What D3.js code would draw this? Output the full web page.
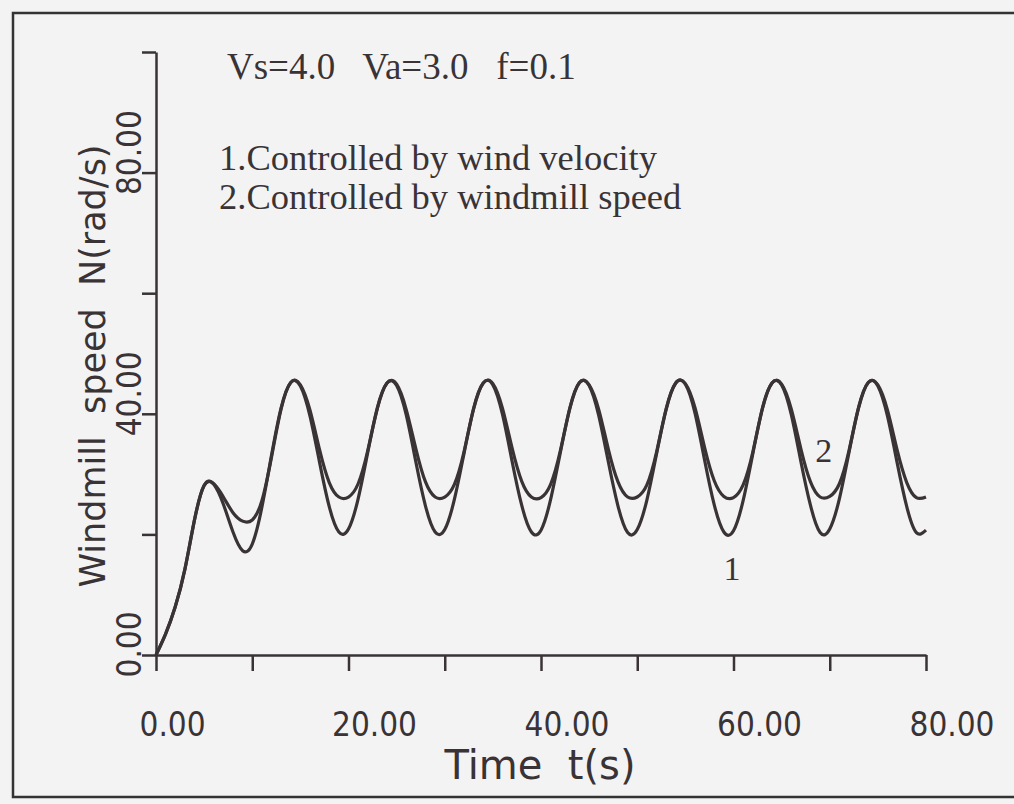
<!DOCTYPE html>
<html><head><meta charset="utf-8">
<script src="https://cdn.jsdelivr.net/npm/d3@7"></script>
<style>
body{margin:0;background:#f4f3f3;}
svg{display:block;}
</style>
</head><body>
<svg id="chart" width="1014" height="804"></svg>
<script>
// ---- data ----
const timeS = [0,1,2,3,4,5,6,7,8,9,10,11,12,13,14,15,16,17,18,19,20,21,22,23,24,25,26,27,28,29,30,31,32,33,34,35,36,37,38,39,40,41,42,43,44,45,46,47,48,49,50,51,52,53,54,55,56,57,58,59,60,61,62,63,64,65,66,67,68,69,70,71,72,73,74,75,76,77,78,79,80];
// curve 1: controlled by wind velocity
const speedWind = [0,3.5,8.0,14.2,22.4,28.1,28.3,25.0,20.4,17.3,18.4,24.5,33.1,41.0,45.2,44.6,39.6,31.9,24.6,20.4,20.9,25.9,33.6,40.9,45.1,44.7,39.8,32.0,24.7,20.4,20.8,25.8,33.4,40.8,45.1,44.8,39.9,32.1,24.8,20.4,20.7,25.8,33.5,40.9,45.2,44.7,39.7,32.0,24.7,20.3,20.8,25.7,33.3,40.7,45.1,44.9,40.1,32.3,24.9,20.4,20.6,25.6,33.3,40.8,45.1,44.8,39.9,32.1,24.8,20.3,20.9,25.9,33.6,41.0,45.2,44.6,39.6,31.9,24.6,20.3,20.7];
// curve 2: controlled by windmill speed
const speedMill = [0,3.5,8.0,14.2,22.4,28.1,28.4,26.2,23.6,22.2,22.4,25.6,32.8,40.8,45.2,44.8,40.6,34.0,28.6,26.2,26.2,28.4,33.9,41.0,45.1,44.9,40.7,34.2,28.7,26.2,26.2,28.3,33.7,40.9,45.1,45.0,40.9,34.3,28.8,26.2,26.1,28.3,33.8,41.0,45.2,44.8,40.7,34.1,28.7,26.2,26.2,28.2,33.6,40.8,45.1,45.0,41.0,34.4,28.9,26.3,26.1,28.2,33.6,40.9,45.1,44.9,40.8,34.2,28.7,26.2,26.3,28.4,33.9,41.1,45.2,44.8,40.6,34.0,28.6,26.1,26.2];

const xTicks = [0,10,20,30,40,50,60,70,80];
const xTickLabels = ["0.00","","20.00","","40.00","","60.00","","80.00"];
const yTicks = [0,20,40,60,80,100];
const yTickLabels = ["0.00","","40.00","","80.00",""];

const titleX = "Time  t(s)";
const titleY = "Windmill  speed  N(rad/s)";
const noteParams = "Vs=4.0   Va=3.0   f=0.1";
const noteLines = ["1.Controlled by wind velocity", "2.Controlled by windmill speed"];
const curveTags = ["1", "2"];

// ---- drawing ----
const ink = "#3a3336";
const svg = d3.select("#chart");
const x = d3.scaleLinear().domain([0, 80]).range([156, 926]);
const y = d3.scaleLinear().domain([0, 100]).range([655, 52]);

// frame
svg.append("path")
  .attr("d", "M1016,13H13V797H1016")
  .attr("fill", "none").attr("stroke", "#333").attr("stroke-width", 2.5);

const sans = "'DejaVu Sans', sans-serif";
const serif = "'Liberation Serif', 'Times New Roman', serif";

// x axis
const gx = svg.append("g").attr("transform", `translate(0,${y(0)})`)
  .call(d3.axisBottom(x).tickValues(xTicks).tickSize(16).tickSizeOuter(0)
    .tickFormat((d, i) => xTickLabels[i]));
gx.select(".domain").attr("stroke", ink).attr("stroke-width", 2.5);
gx.selectAll(".tick line").attr("stroke", ink).attr("stroke-width", 2.5);
gx.selectAll(".tick text")
  .attr("text-anchor", "start").attr("x", -17).attr("y", 0).attr("dy", 0)
  .attr("transform", "translate(0,81)")
  .style("font-family", sans).style("font-size", "33px").style("font-stretch", "condensed")
  .attr("fill", ink);

// y axis
const gy = svg.append("g").attr("transform", `translate(${x(0)},0)`)
  .call(d3.axisLeft(y).tickValues(yTicks).tickSize(14).tickSizeOuter(0)
    .tickFormat((d, i) => yTickLabels[i]));
gy.select(".domain").attr("stroke", ink).attr("stroke-width", 2.5);
gy.selectAll(".tick line").attr("stroke", ink).attr("stroke-width", 2.5);
gy.selectAll(".tick text")
  .attr("text-anchor", "start").attr("x", 0).attr("dy", 0)
  .attr("transform", "translate(-15,22) rotate(-90)")
  .style("font-family", sans).style("font-size", "33px").style("font-stretch", "condensed")
  .attr("fill", ink);

// axis titles
svg.append("text").attr("x", 540).attr("y", 779).attr("text-anchor", "middle")
  .style("font-family", sans).style("font-size", "40px").attr("fill", ink)
  .style("white-space", "pre").text(titleX);
svg.append("text").attr("transform", "translate(105,366) rotate(-90)").attr("text-anchor", "middle")
  .style("font-family", sans).style("font-size", "35px").attr("fill", ink)
  .style("white-space", "pre").text(titleY);

// curves
const line = d3.line().curve(d3.curveNatural);
[speedWind, speedMill].forEach(series => {
  svg.append("path")
    .attr("d", line(timeS.map((t, i) => [x(t), y(series[i])])))
    .attr("fill", "none").attr("stroke", ink).attr("stroke-width", 3.2);
});

// annotations
svg.append("text").attr("x", 227).attr("y", 79)
  .style("font-family", serif).style("font-size", "37px").style("white-space", "pre")
  .attr("fill", ink).text(noteParams);
noteLines.forEach((s, i) => {
  svg.append("text").attr("x", 219).attr("y", 170 + i * 39)
    .style("font-family", serif).style("font-size", "36.5px")
    .attr("fill", ink).text(s);
});
svg.append("text").attr("x", x(60) - 10).attr("y", 580)
  .style("font-family", serif).style("font-size", "34px").attr("fill", ink).text(curveTags[0]);
svg.append("text").attr("x", x(68.5)).attr("y", 462)
  .style("font-family", serif).style("font-size", "34px").attr("fill", ink).text(curveTags[1]);
</script>
</body></html>
